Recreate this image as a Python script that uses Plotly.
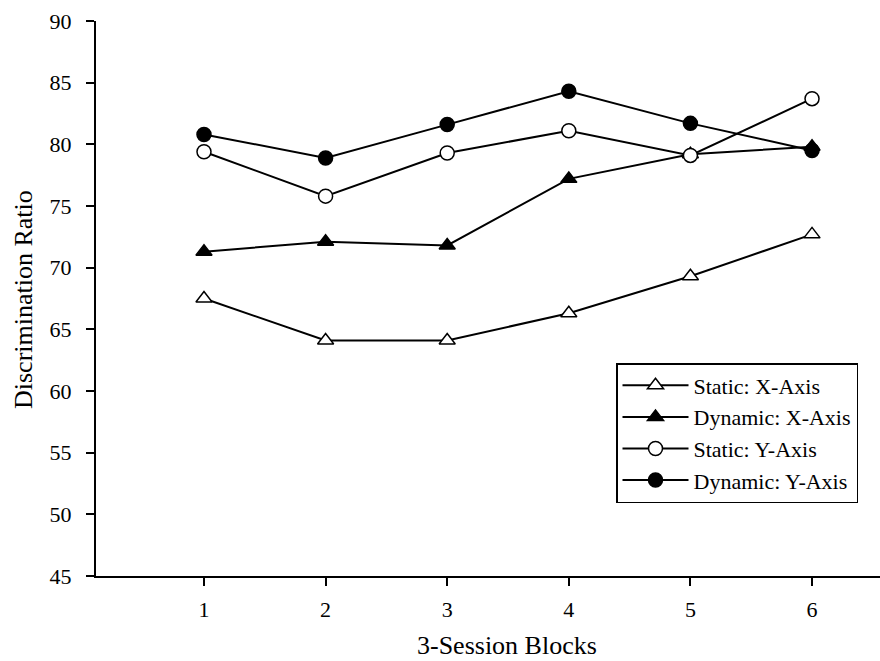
import plotly.graph_objects as go

blocks = [1, 2, 3, 4, 5, 6]
tick_vals_y = [45, 50, 55, 60, 65, 70, 75, 80, 85, 90]

static_x = [67.5, 64.1, 64.1, 66.3, 69.3, 72.7]
dynamic_x = [71.3, 72.1, 71.8, 77.2, 79.2, 79.8]
static_y = [79.4, 75.8, 79.3, 81.1, 79.1, 83.7]
dynamic_y = [80.8, 78.9, 81.6, 84.3, 81.7, 79.5]

series_names = ["Static: X-Axis", "Dynamic: X-Axis", "Static: Y-Axis", "Dynamic: Y-Axis"]

FONT = "Liberation Serif, Times New Roman, serif"

fig = go.Figure()

specs = [
    (static_x, series_names[0], "triangle-up", "white", 14),
    (dynamic_x, series_names[1], "triangle-up", "black", 14),
    (static_y, series_names[2], "circle", "white", 14),
    (dynamic_y, series_names[3], "circle", "black", 14),
]
for vals, name, sym, fill, size in specs:
    fig.add_trace(go.Scatter(
        x=blocks, y=vals, name=name, mode="lines+markers",
        line=dict(color="black", width=2),
        marker=dict(symbol=sym, size=size, color=fill,
                    line=dict(color="black", width=1.5)),
    ))

fig.update_layout(
    width=880, height=661,
    margin=dict(l=96, r=0, t=21, b=85),
    paper_bgcolor="white", plot_bgcolor="white",
    font=dict(family=FONT, color="black", size=22),
    showlegend=True,
    legend=dict(
        x=(616 - 96) / 784, y=(576 - 363) / 555,
        xanchor="left", yanchor="top",
        bgcolor="white", bordercolor="black", borderwidth=1.5,
        font=dict(family=FONT, size=22, color="black"),
        itemwidth=66, tracegroupgap=0,
    ),
    xaxis=dict(
        range=[0.112, 6.559], tickmode="array", tickvals=blocks,
        ticktext=[str(b) for b in blocks],
        showline=True, linecolor="black", linewidth=2,
        ticks="outside", ticklen=8, tickwidth=2, tickcolor="black",
        showgrid=False, zeroline=False,
        tickfont=dict(family=FONT, size=22), ticklabelstandoff=5,
    ),
    yaxis=dict(
        range=[45, 90], tickmode="array", tickvals=tick_vals_y,
        showline=True, linecolor="black", linewidth=2,
        ticks="outside", ticklen=8, tickwidth=2, tickcolor="black",
        showgrid=False, zeroline=False,
        tickfont=dict(family=FONT, size=22), ticklabelstandoff=10,
    ),
    annotations=[
        dict(text="3-Session Blocks", xref="paper", yref="paper",
             x=(507 - 96) / 784, y=(576 - 645) / 555,
             xanchor="center", yanchor="middle", showarrow=False,
             font=dict(family=FONT, size=26)),
        dict(text="Discrimination Ratio", xref="paper", yref="paper",
             x=(23 - 96) / 784, y=(576 - 300) / 555, textangle=-90,
             xanchor="center", yanchor="middle", showarrow=False,
             font=dict(family=FONT, size=26)),
    ],
)

fig.write_html("out.html", config={"displayModeBar": False},
               post_script="document.body.style.margin='0';")
